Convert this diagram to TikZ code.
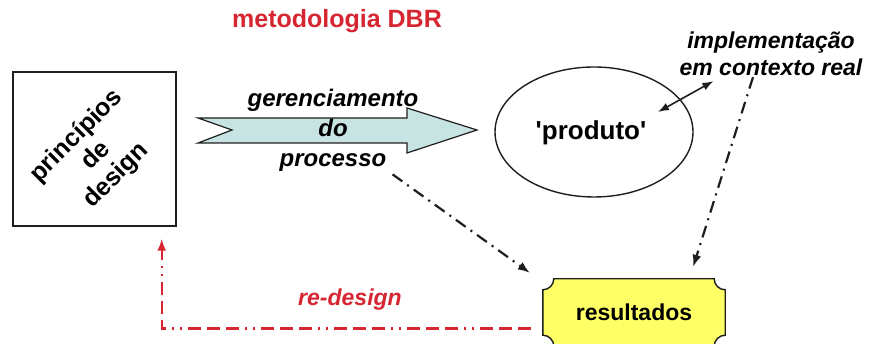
\documentclass[tikz,border=0pt]{standalone}
\usepackage{fontspec}
\setmainfont{Liberation Sans}
\usetikzlibrary{arrows.meta}
\usetikzlibrary{shapes.geometric}
\usetikzlibrary{calc}

\definecolor{dbrred}{RGB}{214,38,50}
\definecolor{setafill}{RGB}{200,228,226}
\definecolor{resfill}{RGB}{255,255,102}
\definecolor{traco}{RGB}{30,30,30}

\tikzset{
    rotulo/.style={font=\bfseries\itshape\fontsize{24}{30}\selectfont, align=center, inner sep=1pt},
    pontotraco/.style={traco, line width=2.2pt, dash pattern=on 12pt off 6pt on 2pt off 6pt,
        -{Latex[length=12pt,width=9pt]}},
    redesign/.style={dbrred, line width=2.2pt,
        dash pattern=on 13pt off 6pt on 13pt off 6pt on 13pt off 6pt on 2pt off 6pt on 2pt off 6pt,
        -{Latex[length=12pt,width=9pt]}}
}

\begin{document}
\begin{tikzpicture}[x=1pt,y=1pt]
                \useasboundingbox (0,0) rectangle (876,344);

                \node[text=dbrred, font=\bfseries\fontsize{25}{30}\selectfont] (titulo) at (337,323) {metodologia DBR};

                \node[draw=traco, line width=1.4pt, minimum width=163pt, minimum height=154pt] (box) at (94.5,195) {};
                \node[rotate=45, align=center, font=\bfseries\fontsize{25}{28}\selectfont] (principios) at ([xshift=2pt,yshift=-7pt]box.center) {princípios\\de\\design};

                \draw[traco, line width=1.2pt, fill=setafill] (198,226) -- (407,226) -- (407,236) -- (477,214)
                    -- (407,191) -- (407,201) -- (198,201) -- (232,214) -- cycle;
                \node[rotulo] (proc) at (333,214) {gerenciamento\\do\\processo};

                \node[ellipse, draw=traco, line width=1.4pt, minimum width=198pt, minimum height=130pt] (elipse) at (594,212) {};
                \node[font=\bfseries\fontsize{26}{30}\selectfont] (produto) at (591,211) {\textquotesingle produto\textquotesingle};

                \node[rotulo, font=\bfseries\itshape\fontsize{23}{27}\selectfont] (impl) at (771,290) {implementação\\em contexto real};

                \node[minimum width=182pt, minimum height=67pt] (res) at (634,31.5) {};
                \draw[traco, line width=1.4pt, fill=resfill]
                    ([yshift=-11pt]res.north west) arc[start angle=-90, end angle=0, radius=11pt]
                    -- ([xshift=-11pt]res.north east) arc[start angle=180, end angle=270, radius=11pt]
                    -- ([yshift=11pt]res.south east) arc[start angle=90, end angle=180, radius=11pt]
                    -- ([xshift=11pt]res.south west) arc[start angle=0, end angle=90, radius=11pt]
                    -- cycle;
                \node[font=\bfseries\fontsize{23}{28}\selectfont] (resultados) at (res.center) {resultados};

                \coordinate (dentro) at (658,232);
                \draw[traco, line width=1.6pt, {Latex[length=11pt,width=8pt]}-{Latex[length=11pt,width=8pt]}]
                    (dentro) -- ([xshift=35pt,yshift=-4pt]impl.south west);

                \draw[pontotraco] ([xshift=-27pt,yshift=-2pt]proc.south east) -- ([xshift=-13pt,yshift=6pt]res.north west);
                \draw[pontotraco] ([xshift=-18pt]impl.south) -- ([xshift=-32pt,yshift=12pt]res.north east);

                \draw[redesign] ([xshift=-12pt,yshift=-16pt]res.west) -| ([xshift=-15pt,yshift=-12pt]box.south east);
                \node[text=dbrred, font=\bfseries\itshape\fontsize{23}{28}\selectfont] (redes) at (350,44) {re-design};
            \end{tikzpicture}
\end{document}
